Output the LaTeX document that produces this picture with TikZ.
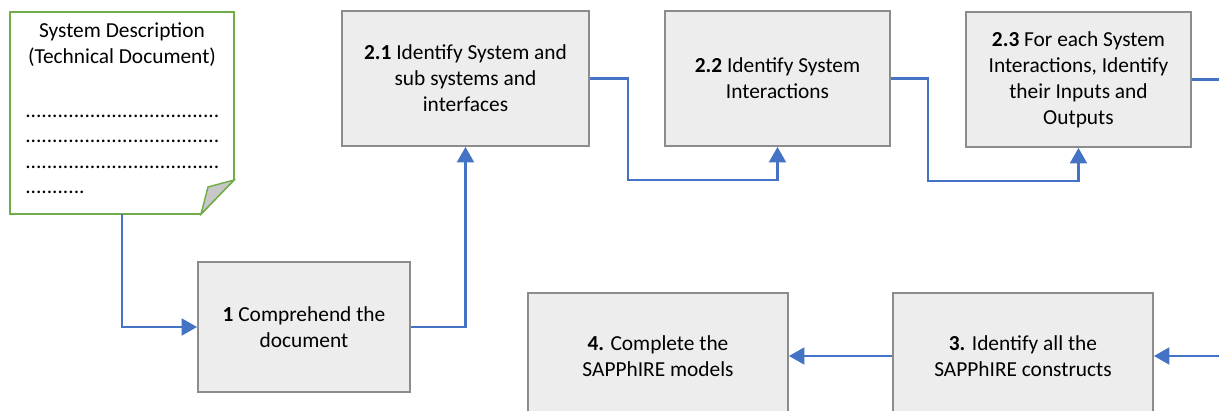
\documentclass[tikz,border=0pt]{standalone}
\usepackage{fontspec}
\setmainfont{Carlito}
\usepackage{xcolor}
\usetikzlibrary{positioning}
\usetikzlibrary{arrows.meta}

\definecolor{flowblue}{HTML}{4472C4}
\definecolor{boxgray}{HTML}{EDEDED}
\definecolor{boxline}{HTML}{8C8C8C}
\definecolor{docgreen}{HTML}{70AD47}
\definecolor{foldgray}{HTML}{C8C8C8}

\tikzset{
  >={Triangle[width=12pt,length=11pt]},
  stepbox/.style={draw=boxline, fill=boxgray, line width=1.3pt, align=center,
    inner sep=0pt, font=\fontsize{15.2}{18.4}\selectfont},
  doctext/.style={font=\fontsize{15.2}{18.4}\selectfont, inner sep=0pt},
  flow/.style={draw=flowblue, line width=1.8pt}
}

\begin{document}
\begin{tikzpicture}[x=0.025cm, y=-0.025cm]
            \useasboundingbox (0,0) rectangle (1219,411);

            % Source document
            \draw[docgreen, line width=1.2pt, fill=white]
                (10,12) -- (234,12) -- (234,180) -- (201,214) -- (10,214) -- cycle;
            \filldraw[draw=docgreen, fill=foldgray, line width=1pt]
                (234,180) -- (208,187) -- (201,214) -- cycle;
            \node[doctext, align=center] (doctitle) at (122,45)
                {System Description\\(Technical Document)};
            \node[doctext, anchor=base west] (dots1) at (25,118) {....................................};
            \node[doctext, anchor=base west] (dots2) at (25,143) {....................................};
            \node[doctext, anchor=base west] (dots3) at (25,169) {....................................};
            \node[doctext, anchor=base west] (dots4) at (25,194) {...........};
            \coordinate (docout) at (122,214);

            % Steps
            \node[stepbox, minimum width=5.3cm, minimum height=3.25cm] (s1) at (304,327)
                {\textbf{1} Comprehend the\\document};
            \node[stepbox, minimum width=6.175cm, minimum height=3.375cm] (s21) at (465.5,78.5)
                {\textbf{2.1} Identify System and\\sub systems and\\interfaces};
            \node[stepbox, minimum width=5.625cm, minimum height=3.375cm] (s22) at (777.5,78.5)
                {\textbf{2.2} Identify System\\Interactions};
            \node[stepbox, minimum width=5.625cm, minimum height=3.375cm] (s23) at (1078.5,79.5)
                {\textbf{2.3} For each System\\Interactions, Identify\\their Inputs and\\Outputs};
            \node[stepbox, minimum width=6.5cm, minimum height=3.15cm] (s3) at (1023,356)
                {\textbf{3.} Identify all the\\SAPPhIRE constructs};
            \node[stepbox, minimum width=6.5cm, minimum height=3.15cm] (s4) at (658,356)
                {\textbf{4.} Complete the\\SAPPhIRE models};

            % Free ends at the right edge
            \coordinate (exitR) at (1219,79.5);
            \coordinate (enterR) at (1219,356);

            % Connectors
            \draw[flow, ->] (docout) |- (s1.west);
            \draw[flow, ->] (s1.east) -| (s21.south);
            \draw[flow, ->] (s21.east) -| (628,180) -| (s22.south);
            \draw[flow, ->] (s22.east) -| (928,181) -| (s23.south);
            \draw[flow] (s23.east) -- (exitR);
            \draw[flow, ->] (enterR) -- (s3.east);
            \draw[flow, ->] (s3.west) -- (s4.east);
        \end{tikzpicture}
\end{document}
